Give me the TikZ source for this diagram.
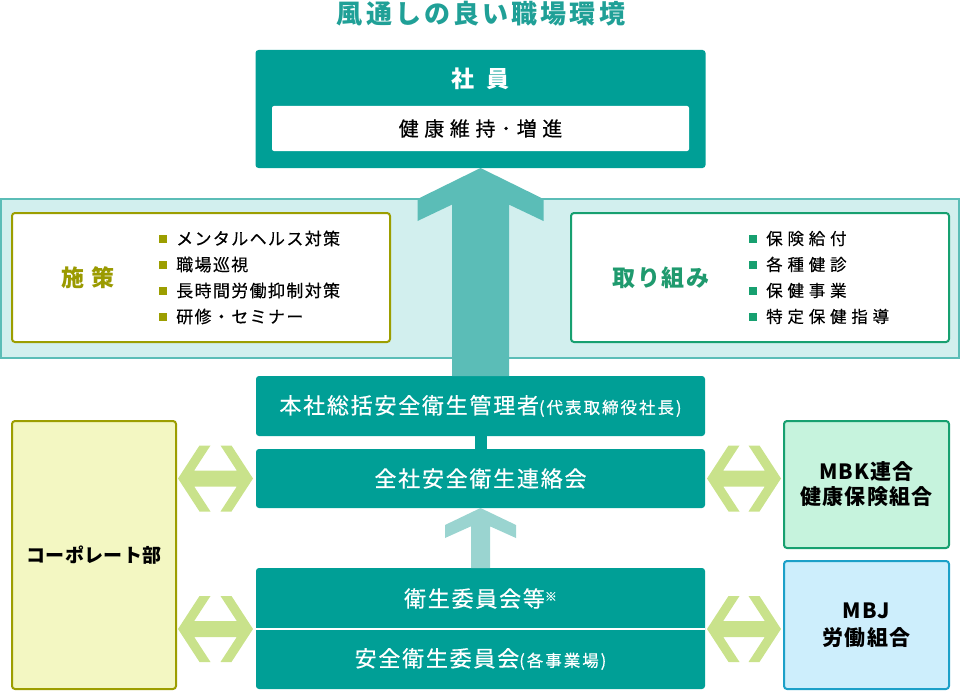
\documentclass[tikz,border=0pt]{standalone}
\usepackage{fontspec}
\setmainfont{Noto Sans CJK JP}
\usetikzlibrary{calc,backgrounds}
\definecolor{teal1}{HTML}{009F96}
\definecolor{titlec}{HTML}{20A097}
\definecolor{bigarr}{HTML}{5BBDB7}
\definecolor{smallarr}{HTML}{9AD4D0}
\definecolor{bandfill}{HTML}{D2EFEE}
\definecolor{bandline}{HTML}{5BBDB7}
\definecolor{dblc}{HTML}{C9E28B}
\definecolor{olive1}{HTML}{9C9E00}
\definecolor{olivetxt}{HTML}{9A9A00}
\definecolor{green1}{HTML}{17A070}
\definecolor{greentxt}{HTML}{1F9A6E}
\definecolor{corpfill}{HTML}{F3F7C2}
\definecolor{mbkfill}{HTML}{C6F3DD}
\definecolor{mbjfill}{HTML}{CDEEFC}
\definecolor{mbjline}{HTML}{1CA0C8}
\newcommand\bul[1]{{\color{#1}\rule[2pt]{8pt}{8pt}}\hspace{9pt}}
\newcommand\dblarrow[2]{%
 \fill[dblc] let \p1=(#1), \p2=(#2) in
 (\x1,\y1) -- (\x1+21.5pt,\y1+33pt) -- (\x1+32.5pt,\y1+33pt) -- (\x1+16.2pt,\y1+8pt)
 -- (\x2-16.2pt,\y1+8pt) -- (\x2-32.5pt,\y1+33pt) -- (\x2-21.5pt,\y1+33pt) -- (\x2,\y1)
 -- (\x2-21.5pt,\y1-33pt) -- (\x2-32.5pt,\y1-33pt) -- (\x2-16.2pt,\y1-8pt)
 -- (\x1+16.2pt,\y1-8pt) -- (\x1+32.5pt,\y1-33pt) -- (\x1+21.5pt,\y1-33pt) -- cycle;}
\tikzset{
 boxbase/.style={inner sep=0pt, outer sep=0pt, rounded corners=3pt},
 tealbox/.style={boxbase, fill=teal1, text=white,
   font=\fontsize{22}{26}\selectfont\addfontfeatures{LetterSpace=8,FakeBold=0.5}},
 plainbox/.style={boxbase, inner sep=0pt},
}
\begin{document}
\begin{tikzpicture}[x=1pt,y=-1pt]
\useasboundingbox (0,0) rectangle (960,690);
% band
\draw[fill=bandfill, draw=bandline, line width=2pt] (1,199) rectangle (959,358);
% title
\node[inner sep=0, text=titlec, font=\fontsize{26}{30}\selectfont\bfseries\addfontfeatures{LetterSpace=12}] (title) at (481,14) {風通しの良い職場環境};
% top box
\node[tealbox, minimum width=450, minimum height=118] (shain) at (480.5,109) {};
\node[inner sep=0, text=white, font=\fontsize{23}{26}\selectfont\bfseries] (shaint) at (480.5,79) {社\hspace{12pt}員};
\node[boxbase, rounded corners=2pt, fill=white, minimum width=417, minimum height=45, font=\fontsize{20}{24}\selectfont\addfontfeatures{LetterSpace=28,FakeBold=0.4}] (kenko) at (480.5,128.5) {健康維持･増進};
% policies
\node[plainbox, draw=olive1, fill=white, line width=2pt, minimum width=378, minimum height=129] (sesaku) at (201,277.5) {};
\node[inner sep=0, text=olivetxt, font=\fontsize{23}{26}\selectfont\bfseries] (sesakul) at (88,278) {施\hspace{7pt}策};
\node[inner sep=0, anchor=west, align=left, font=\fontsize{17}{26}\selectfont\addfontfeatures{LetterSpace=8,FakeBold=0.3}] (slist) at (159,277.5)
 {\bul{olive1}メンタルヘルス対策\\\bul{olive1}職場巡視\\\bul{olive1}長時間労働抑制対策\\\bul{olive1}研修・セミナー};
\node[plainbox, draw=green1, fill=white, line width=2pt, minimum width=378, minimum height=129] (tori) at (760,277.5) {};
\node[inner sep=0, text=greentxt, font=\fontsize{23}{26}\selectfont\bfseries\addfontfeatures{LetterSpace=6}] (toril) at (661,278) {取り組み};
\node[inner sep=0, anchor=west, align=left, font=\fontsize{16.5}{26}\selectfont\addfontfeatures{LetterSpace=29,FakeBold=0.3}] (tlist) at (749,277.5)
 {\bul{green1}保険給付\\\bul{green1}各種健診\\\bul{green1}保健事業\\\bul{green1}特定保健指導};
% central boxes
\node[tealbox, minimum width=449, minimum height=60] (honsha) at (480.5,406)
 {本社総括安全衛生管理者{\fontsize{16.5}{20}\selectfont\addfontfeatures{LetterSpace=12,FakeBold=0.5}(代表取締役社長)}};
\node[tealbox, minimum width=449, minimum height=59] (zensha) at (480.5,478.5) {全社安全衛生連絡会};
\node[tealbox, fill=none, rounded corners=0pt, minimum width=449, minimum height=61] (eisei) at (480.5,598.5)
 {衛生委員会等\raisebox{6pt}{\fontsize{12}{14}\selectfont ※}};
\node[tealbox, fill=none, rounded corners=0pt, minimum width=449, minimum height=60] (anzen) at (480.5,659)
 {安全衛生委員会{\fontsize{16.5}{20}\selectfont\addfontfeatures{LetterSpace=12,FakeBold=0.5}(各事業場)}};
\begin{scope}[on background layer]
 \fill[teal1, rounded corners=3pt] (eisei.north west) rectangle (anzen.south east);
 \draw[white, line width=2pt] (eisei.south west) -- (eisei.south east);
\end{scope}
% side boxes
\node[plainbox, draw=olive1, fill=corpfill, line width=2pt, minimum width=164, minimum height=268,
 font=\fontsize{19}{24}\selectfont\bfseries\addfontfeatures{LetterSpace=2}] (corp) at (94,555) {コーポレート部};
\node[plainbox, draw=green1, fill=mbkfill, line width=2pt, minimum width=165, minimum height=127, align=center,
 font=\fontsize{21}{25}\selectfont\bfseries\addfontfeatures{LetterSpace=6}] (mbk) at (866.5,484.5) {MBK連合\\健康保険組合};
\node[plainbox, draw=mbjline, fill=mbjfill, line width=2pt, minimum width=165, minimum height=128, align=center,
 font=\fontsize{21}{27}\selectfont\bfseries\addfontfeatures{LetterSpace=6}] (mbj) at (866.5,625) {MBJ\\労働組合};
% arrows
\fill[bigarr] ([xshift=-28.5pt]honsha.north) -- ++(0,-171.4) -- ++(-34.5,16.4) -- ++(0,-22)
 -- (shain.south) -- ++(63,31) -- ++(0,22) -- ++(-34.5,-16.4) -- ([xshift=28.5pt]honsha.north) -- cycle;
\fill[smallarr] ([xshift=-9.5pt]eisei.north) -- ++(0,-41.7) -- ++(-26,11.7) -- ++(0,-13)
 -- (zensha.south) -- ++(35.5,17) -- ++(0,13) -- ++(-26,-11.7) -- ([xshift=9.5pt]eisei.north) -- cycle;
\draw[teal1, line width=12pt] (honsha.south) -- (zensha.north);
% double arrows
\coordinate (mid) at ($(eisei.south)!0.5!(anzen.north)$);
\coordinate (la1) at ($(corp.east |- zensha.west)+(2,0)$);
\coordinate (lb1) at ($(zensha.west)+(-3,0)$);
\coordinate (la2) at ($(corp.east |- mid)+(2,0)$);
\coordinate (lb2) at ($(eisei.west |- mid)+(-3,0)$);
\coordinate (ra1) at ($(zensha.east)+(2,0)$);
\coordinate (rb1) at ($(mbk.west |- zensha.east)+(-3,0)$);
\coordinate (ra2) at ($(eisei.east |- mid)+(2,0)$);
\coordinate (rb2) at ($(mbj.west |- mid)+(-3,0)$);
\dblarrow{la1}{lb1}
\dblarrow{la2}{lb2}
\dblarrow{ra1}{rb1}
\dblarrow{ra2}{rb2}
\end{tikzpicture}
\end{document}
